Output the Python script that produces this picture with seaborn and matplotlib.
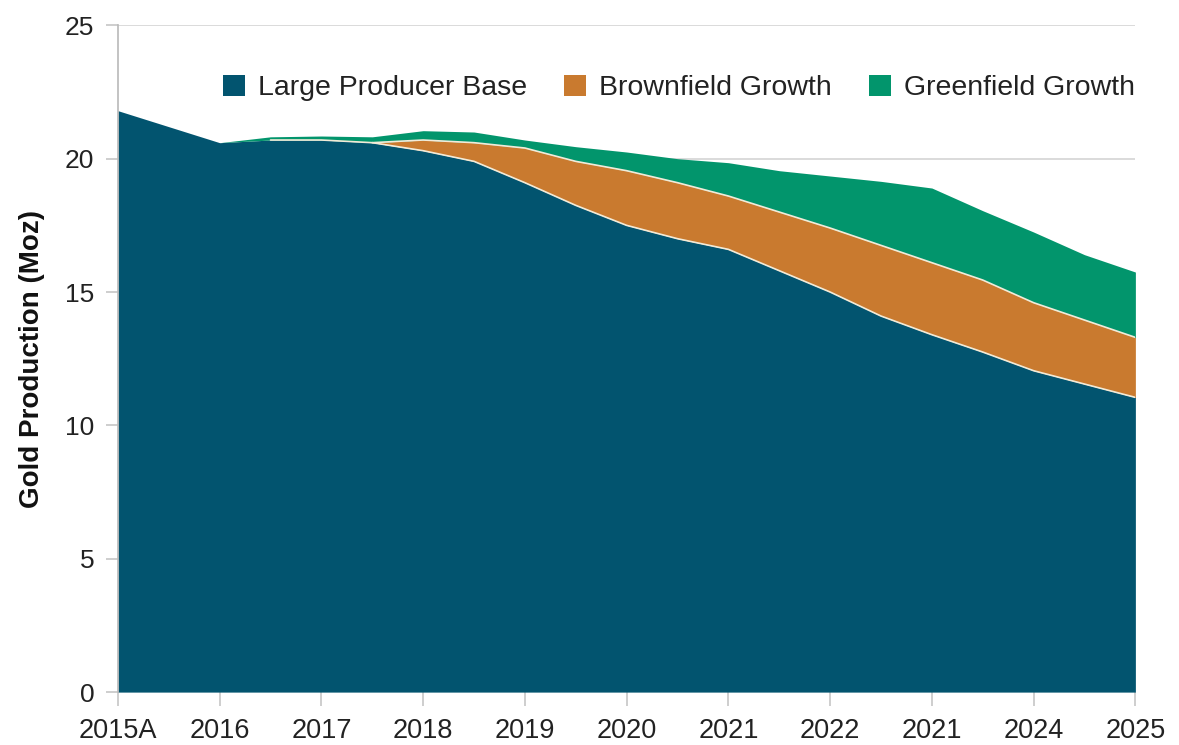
import numpy as np
import pandas as pd
import matplotlib
matplotlib.use('Agg')
import matplotlib.pyplot as plt
import seaborn as sns
from matplotlib.patches import Patch

# Dados (passo de meio ano)
x_pos = [0, 0.5, 1, 1.5, 2, 2.5, 3, 3.5, 4, 4.5, 5, 5.5, 6, 6.5, 7, 7.5, 8, 8.5, 9, 9.5, 10]
base = [21.8, 21.2, 20.6, 20.7, 20.7, 20.6, 20.3, 19.9, 19.1, 18.25, 17.5, 17.0,
        16.6, 15.8, 15.0, 14.1, 13.4, 12.75, 12.05, 11.55, 11.05]
brownfield = [0, 0, 0, 0, 0, 0, 0.4, 0.7, 1.3, 1.65, 2.05, 2.1,
              2.0, 2.2, 2.4, 2.65, 2.7, 2.7, 2.55, 2.4, 2.25]
greenfield = [0, 0, 0, 0.12, 0.15, 0.22, 0.35, 0.4, 0.3, 0.55, 0.7, 0.9,
              1.25, 1.55, 1.95, 2.4, 2.8, 2.6, 2.65, 2.45, 2.45]

tick_labels = ['2015A', '2016', '2017', '2018', '2019', '2020',
               '2021', '2022', '2021', '2024', '2025']
series_names = ['Large Producer Base', 'Brownfield Growth', 'Greenfield Growth']
colors = ['#02546F', '#C97A2F', '#02956C']

df = pd.DataFrame({'x': x_pos, 'base': base, 'brown': brownfield, 'green': greenfield})
df['top_base'] = df['base']
df['top_brown'] = df['top_base'] + df['brown']
df['top_green'] = df['top_brown'] + df['green']

sns.set_theme(style='white')
plt.rcParams['font.family'] = ['Liberation Sans', 'DejaVu Sans']

fig, ax = plt.subplots(figsize=(11.79, 7.45), dpi=100)
fig.subplots_adjust(left=0.100, right=0.963, bottom=0.071, top=0.966)

ax.fill_between(df['x'], 0, df['top_base'], color=colors[0], lw=0, zorder=2)
ax.fill_between(df['x'], df['top_base'], df['top_brown'], color=colors[1], lw=0, zorder=2)
ax.fill_between(df['x'], df['top_brown'], df['top_green'], color=colors[2], lw=0, zorder=2)

# linhas claras entre as camadas
m = df['x'] >= 1.5
sns.lineplot(data=df[m], x='x', y='top_base', color='#F2EBD8', lw=1.2, ax=ax, zorder=3)
m2 = df['x'] >= 2.5
sns.lineplot(data=df[m2], x='x', y='top_brown', color='#F2EBD8', lw=1.2, ax=ax, zorder=3)

ax.set_xlim(0, 10)
ax.set_ylim(0, 25)
ax.set_xticks(range(len(tick_labels)))
ax.set_xticklabels(tick_labels)
ax.set_yticks([0, 5, 10, 15, 20, 25])
ax.set_xlabel('')
ax.set_ylabel('Gold Production (Moz)', fontsize=20, fontweight='bold', color='#111111', labelpad=14)

ax.yaxis.grid(True, color='#D4D4D4', lw=1.2, zorder=0)
ax.xaxis.grid(False)
ax.set_axisbelow(True)
for s in ['top', 'right', 'bottom']:
    ax.spines[s].set_visible(False)
ax.spines['left'].set_color('#BBBBBB')
ax.tick_params(axis='x', length=10, pad=9, color='#C8C8C8', direction='out',
               labelsize=19.5, labelcolor='#222222', bottom=True)
ax.tick_params(axis='y', length=9, pad=8, color='#C8C8C8', direction='out',
               labelsize=19, labelcolor='#222222', left=True)

handles = [Patch(facecolor=c, edgecolor='none') for c in colors]
ax.legend(handles, series_names, ncol=3, frameon=False, fontsize=20.5,
          loc='center right', bbox_to_anchor=(1.0, 0.906), borderaxespad=0, borderpad=0,
          handlelength=0.78, handleheight=0.75, handletextpad=0.46, columnspacing=1.3,
          labelcolor='#222222')

fig.savefig('out.png', dpi=100)
